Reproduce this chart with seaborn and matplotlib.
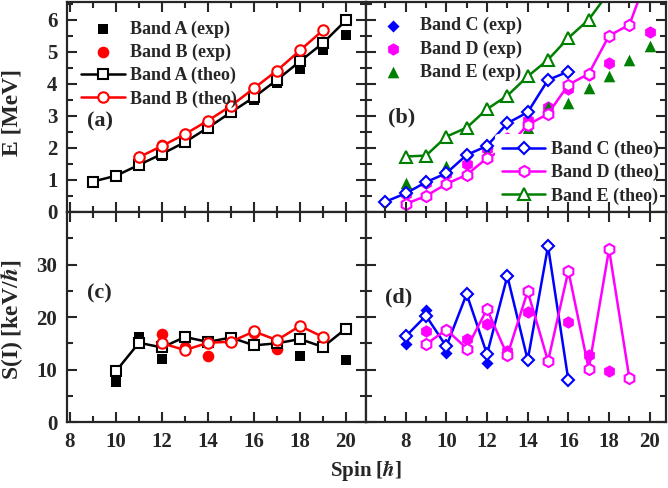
import numpy as np
import pandas as pd
import matplotlib
matplotlib.use("Agg")
import matplotlib.pyplot as plt
import seaborn as sns

# ---- data ----
# (a) energies, bands A and B
spin_A_exp = [9, 10, 11, 12, 13, 14, 15, 16, 17, 18, 19, 20]
E_A_exp = [0.97, 1.12, 1.47, 1.76, 2.15, 2.58, 3.08, 3.50, 4.02, 4.46, 5.04, 5.53]
spin_A_th = [9, 10, 11, 12, 13, 14, 15, 16, 17, 18, 19, 20]
E_A_th = [0.95, 1.13, 1.47, 1.81, 2.18, 2.63, 3.11, 3.58, 4.12, 4.70, 5.27, 5.98]
spin_B_exp = [11, 12, 13, 14, 15, 16, 17]
E_B_exp = [1.71, 2.09, 2.44, 2.81, 3.28, 3.83, 4.32]
spin_B_th = [11, 12, 13, 14, 15, 16, 17, 18, 19]
E_B_th = [1.71, 2.06, 2.43, 2.85, 3.31, 3.86, 4.41, 5.04, 5.67]

# (b) energies, bands C, D, E
spin_C_exp = [7, 8, 9, 10, 11, 12]
E_C_exp = [0.32, 0.56, 0.94, 1.20, 1.74, 2.01]
spin_C_th = [7, 8, 9, 10, 11, 12, 13, 14, 15, 16]
E_C_th = [0.32, 0.58, 0.93, 1.21, 1.78, 2.06, 2.77, 3.11, 4.12, 4.38]
spin_D_exp = [8, 9, 10, 11, 12, 13, 14, 15, 16, 17, 18, 20]
E_D_exp = [0.55, 0.90, 1.20, 1.50, 1.95, 2.32, 2.88, 3.26, 3.85, 4.28, 4.64, 5.61]
spin_D_th = [8, 9, 10, 11, 12, 13, 14, 15, 16, 17, 18, 19, 20]
E_D_th = [0.25, 0.50, 0.875, 1.16, 1.68, 2.02, 2.72, 3.06, 3.97, 4.31, 5.50, 5.84, 7.55]
spin_E_exp = [8, 10, 12, 14, 15, 16, 17, 18, 19, 20]
E_E_exp = [0.91, 1.42, 1.88, 2.61, 3.27, 3.40, 3.87, 4.25, 4.73, 5.17]
spin_E_th = [8, 9, 10, 11, 12, 13, 14, 15, 16, 17, 18]
E_E_th = [1.73, 1.76, 2.35, 2.63, 3.21, 3.63, 4.23, 4.75, 5.43, 6.00, 6.86]

# (c) S(I), bands A and B
sA_spin_exp = [10, 11, 12, 13, 14, 15, 16, 17, 18, 19, 20]
S_A_exp = [7.6, 16.2, 12.1, 16.0, 15.0, 15.9, 14.6, 14.6, 12.6, 14.2, 11.9]
sA_spin_th = [10, 11, 12, 13, 14, 15, 16, 17, 18, 19, 20]
S_A_th = [9.7, 15.1, 14.2, 16.2, 15.25, 16.1, 14.6, 15.0, 15.8, 14.3, 17.8]
sB_spin_exp = [12, 13, 14, 15, 16, 17]
S_B_exp = [16.7, 14.2, 12.6, 15.4, 17.0, 14.0]
sB_spin_th = [12, 13, 14, 15, 16, 17, 18, 19]
S_B_th = [15.0, 13.7, 15.1, 15.3, 17.25, 15.6, 18.3, 16.2]

# (d) S(I), bands C and D
sC_spin_exp = [8, 9, 10, 11, 12]
S_C_exp = [14.9, 21.3, 13.1, 24.4, 11.3]
sC_spin_th = [8, 9, 10, 11, 12, 13, 14, 15, 16]
S_C_th = [16.3, 20.25, 14.4, 24.4, 12.9, 27.8, 11.8, 33.5, 7.95]
sD_spin_exp = [9, 10, 11, 12, 13, 14, 15, 16, 17, 18]
S_D_exp = [17.4, 17.6, 15.8, 18.65, 13.5, 21.0, 11.6, 19.1, 12.7, 9.7]
sD_spin_th = [9, 10, 11, 12, 13, 14, 15, 16, 17, 18, 19]
S_D_th = [14.8, 17.6, 14.0, 21.5, 12.7, 24.9, 11.6, 28.8, 10.1, 32.9, 8.3]

sns.set_style("ticks")
plt.rcParams['font.family'] = ['Liberation Serif', 'DejaVu Serif']
plt.rcParams['font.weight'] = 'bold'
plt.rcParams['mathtext.fontset'] = 'stix'
plt.rcParams['axes.linewidth'] = 1.6
plt.rcParams['axes.axisbelow'] = False   # ticks drawn over the legend boxes

GREEN = '#008000'


def exp_pts(ax, x, y, color, marker, s, label):
    sns.scatterplot(x=x, y=y, ax=ax, color=color, marker=marker, s=s,
                    linewidth=0, label=label, legend=False, zorder=1.8)


def theo_line(ax, x, y, color, marker, ms, label):
    sns.lineplot(x=x, y=y, ax=ax, color=color, marker=marker, markersize=ms,
                 markerfacecolor='white', markeredgecolor=color, markeredgewidth=1.5,
                 linewidth=1.8, label=label, legend=False, sort=False,
                 estimator=None, zorder=2)


fig = plt.figure(figsize=(6.68, 4.88), dpi=100)
axa = fig.add_axes([0.1003, 0.5656, 0.4476, 0.4303])
axb = fig.add_axes([0.5479, 0.5656, 0.4491, 0.4303])
axc = fig.add_axes([0.1003, 0.1352, 0.4476, 0.4303])
axd = fig.add_axes([0.5479, 0.1352, 0.4491, 0.4303])

# (a)
exp_pts(axa, spin_A_exp, E_A_exp, 'black', 's', 55, 'Band A (exp)')
exp_pts(axa, spin_B_exp, E_B_exp, 'red', 'o', 70, 'Band B (exp)')
theo_line(axa, spin_A_th, E_A_th, 'black', 's', 7, 'Band A (theo)')
theo_line(axa, spin_B_th, E_B_th, 'red', 'o', 7.5, 'Band B (theo)')

# (b)
exp_pts(axb, spin_C_exp, E_C_exp, 'blue', 'D', 38, 'Band C (exp)')
exp_pts(axb, spin_D_exp, E_D_exp, 'magenta', 'h', 80, 'Band D (exp)')
exp_pts(axb, spin_E_exp, E_E_exp, GREEN, '^', 70, 'Band E (exp)')
theo_line(axb, spin_C_th, E_C_th, 'blue', 'D', 6, 'Band C (theo)')
theo_line(axb, spin_D_th, E_D_th, 'magenta', 'h', 8, 'Band D (theo)')
theo_line(axb, spin_E_th, E_E_th, GREEN, '^', 8, 'Band E (theo)')

# (c)
exp_pts(axc, sA_spin_exp, S_A_exp, 'black', 's', 55, None)
exp_pts(axc, sB_spin_exp, S_B_exp, 'red', 'o', 70, None)
theo_line(axc, sA_spin_th, S_A_th, 'black', 's', 7, None)
theo_line(axc, sB_spin_th, S_B_th, 'red', 'o', 7.5, None)

# (d)
exp_pts(axd, sC_spin_exp, S_C_exp, 'blue', 'D', 38, None)
exp_pts(axd, sD_spin_exp, S_D_exp, 'magenta', 'h', 80, None)
theo_line(axd, sC_spin_th, S_C_th, 'blue', 'D', 6, None)
theo_line(axd, sD_spin_th, S_D_th, 'magenta', 'h', 8, None)

for ax in (axa, axc):
    ax.set_xlim(7.87, 20.87)
    ax.set_xticks(range(8, 21, 2))
    ax.set_xticks(range(9, 21, 2), minor=True)
for ax in (axb, axd):
    ax.set_xlim(6.05, 20.8)
    ax.set_xticks(range(8, 21, 2))
    ax.set_xticks(range(7, 21, 2), minor=True)
for ax in (axa, axb):
    ax.set_ylim(0, 6.55)
    ax.set_yticks(range(0, 7))
    ax.set_yticks(np.arange(0.5, 6.6, 1.0), minor=True)
    ax.tick_params(labelbottom=False)
for ax in (axc, axd):
    ax.set_ylim(0, 40)
    ax.set_yticks([0, 10, 20, 30])
    ax.set_yticks([5, 15, 25, 35], minor=True)
for ax in (axb, axd):
    ax.tick_params(labelleft=False)

for ax in (axa, axb, axc, axd):
    ax.set_xlabel('')
    ax.set_ylabel('')
    ax.tick_params(which='both', direction='in', top=True, right=True,
                   width=1.5, labelsize=15, pad=7)
    ax.tick_params(which='major', length=7)
    ax.tick_params(which='minor', length=4.5)
    for lab in ax.get_xticklabels() + ax.get_yticklabels():
        lab.set_fontweight('bold')
    for sp in ax.spines.values():
        sp.set_linewidth(1.6)

panel_font = dict(fontsize=16, fontweight='bold', va='center')
axa.text(0.067, 0.43, '(a)', transform=axa.transAxes, **panel_font)
axb.text(0.073, 0.45, '(b)', transform=axb.transAxes, **panel_font)
axc.text(0.067, 0.61, '(c)', transform=axc.transAxes, **panel_font)
axd.text(0.063, 0.595, '(d)', transform=axd.transAxes, **panel_font)

leg_kw = dict(prop={'size': 13, 'weight': 'bold'}, handlelength=2.4,
              handletextpad=0.3, labelspacing=0.33, borderaxespad=0,
              framealpha=1, facecolor='white', edgecolor='none')

h, l = axa.get_legend_handles_labels()
names_a = ['Band A (exp)', 'Band B (exp)', 'Band A (theo)', 'Band B (theo)']
axa.legend([h[l.index(n)] for n in names_a], names_a, loc='upper left',
           bbox_to_anchor=(0.0237, 0.946), frameon=False, **leg_kw)

h, l = axb.get_legend_handles_labels()
exp_names = ['Band C (exp)', 'Band D (exp)', 'Band E (exp)']
th_names = ['Band C (theo)', 'Band D (theo)', 'Band E (theo)']
leg1 = axb.legend([h[l.index(n)] for n in exp_names], exp_names, loc='upper left',
                  bbox_to_anchor=(-0.0067, 0.963), frameon=False, **leg_kw)
axb.add_artist(leg1)
# the theo legend sits on a white box that hides the data behind it
leg2 = axb.legend([h[l.index(n)] for n in th_names], th_names, loc='lower right',
                  frameon=True, **leg_kw)
leg2.set_zorder(2.2)

fig.text(0.018, 0.77, 'E [MeV]', rotation=90, ha='center', va='center',
         fontsize=17, fontweight='bold')
fig.text(0.018, 0.345, r'S(I) [keV/$\hbar$]', rotation=90, ha='center', va='center',
         fontsize=17, fontweight='bold')
fig.text(0.548, 0.035, r'Spin [$\hbar$]', ha='center', va='center',
         fontsize=15, fontweight='bold')

fig.savefig('out.png', dpi=100)
